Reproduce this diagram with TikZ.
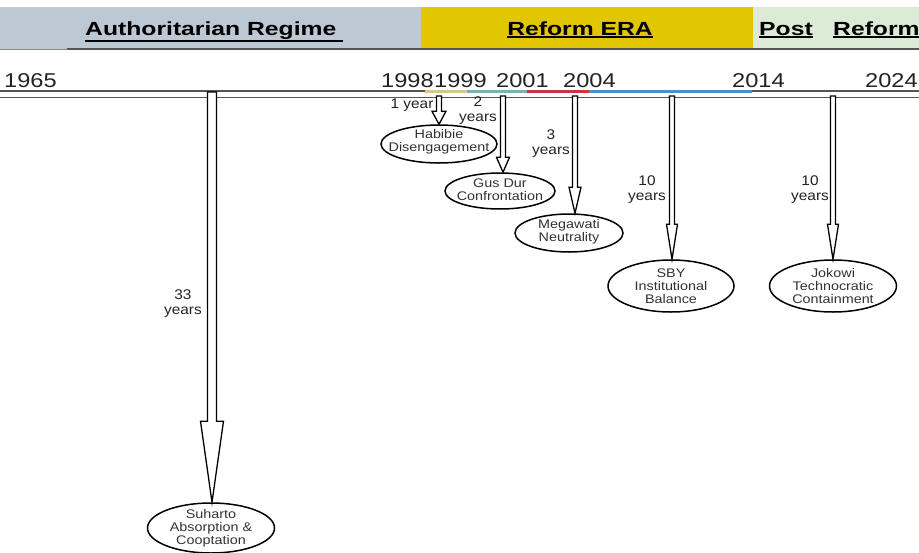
\documentclass[tikz,border=0pt]{standalone}
\usepackage{fontspec}
\setmainfont{Liberation Sans}
\newfontfamily\hdrfont[FakeStretch=1.3]{Liberation Sans}
\newfontfamily\yrfont[FakeStretch=1.18]{Liberation Sans}
\newfontfamily\lblfont[FakeStretch=1.1]{Liberation Sans}
\newfontfamily\ellfont[FakeStretch=1.15]{Liberation Sans}
\usetikzlibrary{shapes.geometric,calc}
\definecolor{hdrblue}{HTML}{BCC8D4}
\definecolor{hdryellow}{HTML}{E2C700}
\definecolor{hdrgreen}{HTML}{DCEBD5}
\definecolor{segtan}{HTML}{D6C58E}
\definecolor{segteal}{HTML}{7FAEB0}
\definecolor{segred}{HTML}{C43A3C}
\definecolor{segblue}{HTML}{4A90C8}
\definecolor{tline}{HTML}{555555}
\definecolor{txt}{HTML}{222222}
\definecolor{etxt}{HTML}{333333}
\newcommand\thickul[1]{\setbox0\hbox{#1}\leavevmode\vtop{\copy0\kern1.2pt\hrule height 1.3pt width \wd0}}
\newcommand\hollowarrow[5]{%
  \draw[harrow] let \p1=(#1), \p2=(#2.north) in
  (\x1-#3pt,\y1) -- (\x1-#3pt,\y2+#5pt) -- (\x1-#4pt,\y2+#5pt) -- (\x1,\y2)
  -- (\x1+#4pt,\y2+#5pt) -- (\x1+#3pt,\y2+#5pt) -- (\x1+#3pt,\y1) -- cycle;}
\begin{document}
\begin{tikzpicture}[x=1pt,y=-1pt,
  hdr/.style={inner sep=0pt, text=black, font=\hdrfont\bfseries\fontsize{19}{22}\selectfont},
  yr/.style={inner sep=0pt, anchor=base west, text=txt, font=\yrfont\fontsize{20}{23}\selectfont},
  lbl/.style={inner sep=0pt, align=center, text=txt, font=\lblfont\fontsize{14}{15}\selectfont},
  ell/.style={shape=ellipse, draw=black, line width=1.5pt, fill=white, inner sep=0pt},
  elltext/.style={inner sep=0pt, align=center, text=etxt, font=\ellfont\fontsize{12.5}{13}\selectfont},
  harrow/.style={draw=black, line width=1.3pt, fill=white, line join=miter}]
\useasboundingbox (0,0) rectangle (919,552);
% header band
\fill[hdrblue] (0,7) rectangle (421,49);
\fill[hdryellow] (421,7) rectangle (753,49);
\fill[hdrgreen] (753,7) rectangle (919,49);
\draw[tline!70, line width=1pt] (0,49) -- (67,49);
\draw[tline, line width=1.8pt] (67,49) -- (919,49);
\node[hdr, anchor=base west] (hauth) at (85,35) {\thickul{Authoritarian Regime\ }};
\node[hdr, anchor=base] (hreform) at (580,35) {\thickul{Reform ERA}};
\node[hdr, anchor=base west] (hpost) at (759,35) {\thickul{Post}};
\node[hdr, anchor=base west] (hpostr) at (833,35) {\thickul{Reform}};
% years
\node[yr] (y1965) at (4,87) {1965};
\node[yr] (y1998) at (381,87) {1998};
\node[yr] (y1999) at (434,87) {1999};
\node[yr] (y2001) at (496,87) {2001};
\node[yr] (y2004) at (563,87) {2004};
\node[yr] (y2014) at (732,87) {2014};
\node[yr] (y2024) at (865,87) {2024};
% timeline
\draw[tline, line width=2pt] (0,91) -- (425,91);
\draw[segtan, line width=3pt] (425,91.5) -- (467,91.5);
\draw[segteal, line width=3pt] (467,91.5) -- (527,91.5);
\draw[segred, line width=3pt] (527,91.5) -- (589,91.5);
\draw[segblue, line width=3pt] (589,91.5) -- (752,91.5);
\draw[tline, line width=2pt] (752,91) -- (919,91);
\draw[tline, line width=1pt] (0,97) -- (919,97);
% arrow start points
\coordinate (tsuh) at (212,92);
\coordinate (thab) at (439,96);
\coordinate (tgus) at (503,96);
\coordinate (tmeg) at (575,96);
\coordinate (tsby) at (672,96);
\coordinate (tjok) at (833,96);
% ellipses
\node[ell, minimum width=116pt, minimum height=38pt] (ehab) at (439,144) {};
\node[elltext] (thabt) at ($(ehab)+(0,-2)$) {Habibie\\Disengagement};
\node[ell, minimum width=110pt, minimum height=36pt] (egus) at (500,191) {};
\node[elltext] (tgust) at ($(egus)+(0,-1)$) {Gus Dur\\Confrontation};
\node[ell, minimum width=108pt, minimum height=38pt] (emeg) at (569,233) {};
\node[elltext] (tmegt) at ($(emeg)+(0,-1)$) {Megawati\\Neutrality};
\node[ell, minimum width=126pt, minimum height=52pt] (esby) at (671,286) {};
\node[elltext] (tsbyt) at (esby) {SBY\\Institutional\\Balance};
\node[ell, minimum width=127pt, minimum height=52pt] (ejok) at (833,286) {};
\node[elltext] (tjokt) at (ejok) {Jokowi\\Technocratic\\Containment};
\node[ell, minimum width=127pt, minimum height=50pt] (esuh) at (211,528) {};
\node[elltext] (tsuht) at (esuh) {Suharto\\Absorption \&\\Cooptation};
% arrows
\hollowarrow{tsuh}{esuh}{4.5}{11.5}{81}
\hollowarrow{thab}{ehab}{2.5}{7}{13}
\hollowarrow{tgus}{egus}{2.5}{6.5}{15}
\hollowarrow{tmeg}{emeg}{2.5}{6}{26}
\hollowarrow{tsby}{esby}{2.5}{5.5}{35}
\hollowarrow{tjok}{ejok}{2.5}{5.5}{35}
% duration labels
\node[lbl] (l1) at (412,105) {1 year};
\node[lbl] (l2) at (478,111) {2\\years};
\node[lbl] (l3) at (551,144) {3\\years};
\node[lbl] (l10a) at (647,190) {10\\years};
\node[lbl] (l10b) at (810,190) {10\\years};
\node[lbl] (l33) at (183,304) {33\\years};
\end{tikzpicture}
\end{document}
